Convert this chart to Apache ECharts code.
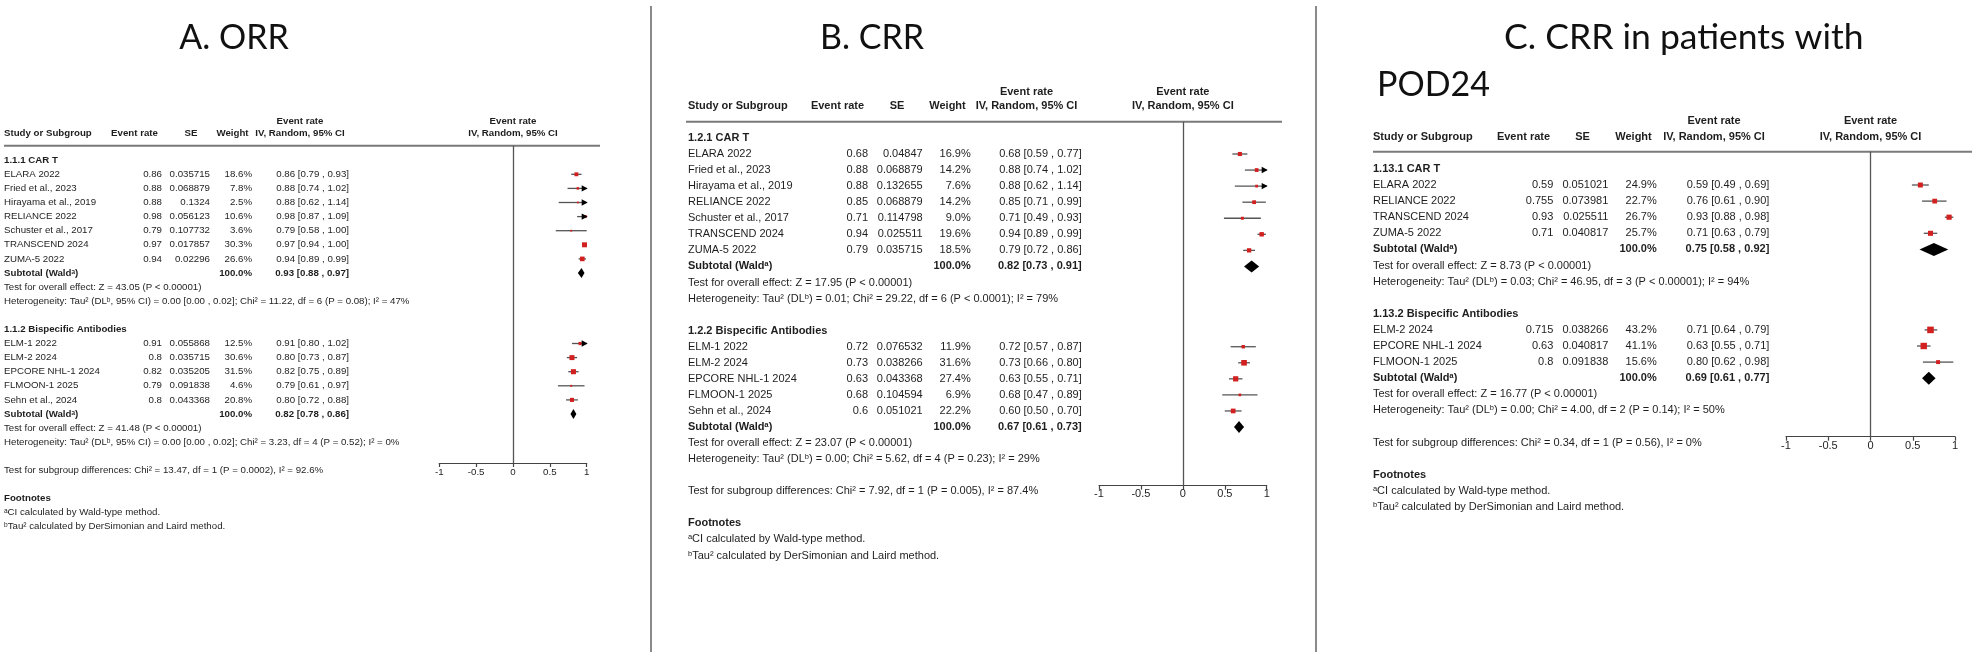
<!DOCTYPE html>
<html><head><meta charset="utf-8">
<script src="https://cdn.jsdelivr.net/npm/echarts@6/dist/echarts.min.js"></script>
<style>html,body{margin:0;padding:0;background:#fff}#c{width:1975px;height:652px}</style>
</head><body><div id="c"></div>
<script>
// ================= DATA =================
const axisTicks = [-1, -0.5, 0, 0.5, 1];
const headerCols = ['Study or Subgroup', 'Event rate', 'SE', 'Weight', 'IV, Random, 95% CI'];
const footnoteLines = ['Footnotes', '\u1d43CI calculated by Wald-type method.', '\u1d47Tau\u00b2 calculated by DerSimonian and Laird method.'];

// ---- Panel A: ORR ----
const A_title = 'A. ORR';
const A_g1_label = '1.1.1 CAR T';
const A_g1_names = ['ELARA 2022', 'Fried et al., 2023', 'Hirayama et al., 2019', 'RELIANCE 2022', 'Schuster et al., 2017', 'TRANSCEND 2024', 'ZUMA-5 2022'];
const A_g1_rate = ['0.86', '0.88', '0.88', '0.98', '0.79', '0.97', '0.94'];
const A_g1_se = ['0.035715', '0.068879', '0.1324', '0.056123', '0.107732', '0.017857', '0.02296'];
const A_g1_weight = [18.6, 7.8, 2.5, 10.6, 3.6, 30.3, 26.6];
const A_g1_est = [0.86, 0.88, 0.88, 0.98, 0.79, 0.97, 0.94];
const A_g1_lo = [0.79, 0.74, 0.62, 0.87, 0.58, 0.94, 0.89];
const A_g1_hi = [0.93, 1.02, 1.14, 1.09, 1.00, 1.00, 0.99];
const A_g1_sub = [0.93, 0.88, 0.97];
const A_g1_test = 'Test for overall effect: Z = 43.05 (P < 0.00001)';
const A_g1_het = 'Heterogeneity: Tau\u00b2 (DL\u1d47, 95% CI) = 0.00 [0.00 , 0.02]; Chi\u00b2 = 11.22, df = 6 (P = 0.08); I\u00b2 = 47%';
const A_g2_label = '1.1.2 Bispecific Antibodies';
const A_g2_names = ['ELM-1 2022', 'ELM-2 2024', 'EPCORE NHL-1 2024', 'FLMOON-1 2025', 'Sehn et al., 2024'];
const A_g2_rate = ['0.91', '0.8', '0.82', '0.79', '0.8'];
const A_g2_se = ['0.055868', '0.035715', '0.035205', '0.091838', '0.043368'];
const A_g2_weight = [12.5, 30.6, 31.5, 4.6, 20.8];
const A_g2_est = [0.91, 0.80, 0.82, 0.79, 0.80];
const A_g2_lo = [0.80, 0.73, 0.75, 0.61, 0.72];
const A_g2_hi = [1.02, 0.87, 0.89, 0.97, 0.88];
const A_g2_sub = [0.82, 0.78, 0.86];
const A_g2_test = 'Test for overall effect: Z = 41.48 (P < 0.00001)';
const A_g2_het = 'Heterogeneity: Tau\u00b2 (DL\u1d47, 95% CI) = 0.00 [0.00 , 0.02]; Chi\u00b2 = 3.23, df = 4 (P = 0.52); I\u00b2 = 0%';
const A_diff = 'Test for subgroup differences: Chi\u00b2 = 13.47, df = 1 (P = 0.0002), I\u00b2 = 92.6%';

// ---- Panel B: CRR ----
const B_title = 'B. CRR';
const B_g1_label = '1.2.1 CAR T';
const B_g1_names = ['ELARA 2022', 'Fried et al., 2023', 'Hirayama et al., 2019', 'RELIANCE 2022', 'Schuster et al., 2017', 'TRANSCEND 2024', 'ZUMA-5 2022'];
const B_g1_rate = ['0.68', '0.88', '0.88', '0.85', '0.71', '0.94', '0.79'];
const B_g1_se = ['0.04847', '0.068879', '0.132655', '0.068879', '0.114798', '0.025511', '0.035715'];
const B_g1_weight = [16.9, 14.2, 7.6, 14.2, 9.0, 19.6, 18.5];
const B_g1_est = [0.68, 0.88, 0.88, 0.85, 0.71, 0.94, 0.79];
const B_g1_lo = [0.59, 0.74, 0.62, 0.71, 0.49, 0.89, 0.72];
const B_g1_hi = [0.77, 1.02, 1.14, 0.99, 0.93, 0.99, 0.86];
const B_g1_sub = [0.82, 0.73, 0.91];
const B_g1_test = 'Test for overall effect: Z = 17.95 (P < 0.00001)';
const B_g1_het = 'Heterogeneity: Tau\u00b2 (DL\u1d47) = 0.01; Chi\u00b2 = 29.22, df = 6 (P < 0.0001); I\u00b2 = 79%';
const B_g2_label = '1.2.2 Bispecific Antibodies';
const B_g2_names = ['ELM-1 2022', 'ELM-2 2024', 'EPCORE NHL-1 2024', 'FLMOON-1 2025', 'Sehn et al., 2024'];
const B_g2_rate = ['0.72', '0.73', '0.63', '0.68', '0.6'];
const B_g2_se = ['0.076532', '0.038266', '0.043368', '0.104594', '0.051021'];
const B_g2_weight = [11.9, 31.6, 27.4, 6.9, 22.2];
const B_g2_est = [0.72, 0.73, 0.63, 0.68, 0.60];
const B_g2_lo = [0.57, 0.66, 0.55, 0.47, 0.50];
const B_g2_hi = [0.87, 0.80, 0.71, 0.89, 0.70];
const B_g2_sub = [0.67, 0.61, 0.73];
const B_g2_test = 'Test for overall effect: Z = 23.07 (P < 0.00001)';
const B_g2_het = 'Heterogeneity: Tau\u00b2 (DL\u1d47) = 0.00; Chi\u00b2 = 5.62, df = 4 (P = 0.23); I\u00b2 = 29%';
const B_diff = 'Test for subgroup differences: Chi\u00b2 = 7.92, df = 1 (P = 0.005), I\u00b2 = 87.4%';

// ---- Panel C: CRR in patients with POD24 ----
const C_title1 = 'C. CRR in patients with';
const C_title2 = 'POD24';
const C_g1_label = '1.13.1 CAR T';
const C_g1_names = ['ELARA 2022', 'RELIANCE 2022', 'TRANSCEND 2024', 'ZUMA-5 2022'];
const C_g1_rate = ['0.59', '0.755', '0.93', '0.71'];
const C_g1_se = ['0.051021', '0.073981', '0.025511', '0.040817'];
const C_g1_weight = [24.9, 22.7, 26.7, 25.7];
const C_g1_est = [0.59, 0.76, 0.93, 0.71];
const C_g1_lo = [0.49, 0.61, 0.88, 0.63];
const C_g1_hi = [0.69, 0.90, 0.98, 0.79];
const C_g1_sub = [0.75, 0.58, 0.92];
const C_g1_test = 'Test for overall effect: Z = 8.73 (P < 0.00001)';
const C_g1_het = 'Heterogeneity: Tau\u00b2 (DL\u1d47) = 0.03; Chi\u00b2 = 46.95, df = 3 (P < 0.00001); I\u00b2 = 94%';
const C_g2_label = '1.13.2 Bispecific Antibodies';
const C_g2_names = ['ELM-2 2024', 'EPCORE NHL-1 2024', 'FLMOON-1 2025'];
const C_g2_rate = ['0.715', '0.63', '0.8'];
const C_g2_se = ['0.038266', '0.040817', '0.091838'];
const C_g2_weight = [43.2, 41.1, 15.6];
const C_g2_est = [0.71, 0.63, 0.80];
const C_g2_lo = [0.64, 0.55, 0.62];
const C_g2_hi = [0.79, 0.71, 0.98];
const C_g2_sub = [0.69, 0.61, 0.77];
const C_g2_test = 'Test for overall effect: Z = 16.77 (P < 0.00001)';
const C_g2_het = 'Heterogeneity: Tau\u00b2 (DL\u1d47) = 0.00; Chi\u00b2 = 4.00, df = 2 (P = 0.14); I\u00b2 = 50%';
const C_diff = 'Test for subgroup differences: Chi\u00b2 = 0.34, df = 1 (P = 0.56), I\u00b2 = 0%';

// ================= LAYOUT =================
const FONT = "'Liberation Sans', Arial, sans-serif";
const TITLE_FONT = "Lato, 'Open Sans', sans-serif";
const TXT = '#1e1e1e';

function grp(label, names, rate, se, w, est, lo, hi, sub, test, het) {
  return {label, names, rate, se, w, est, lo, hi, sub, test, het};
}
const panels = [
  { groups: [
      grp(A_g1_label, A_g1_names, A_g1_rate, A_g1_se, A_g1_weight, A_g1_est, A_g1_lo, A_g1_hi, A_g1_sub, A_g1_test, A_g1_het),
      grp(A_g2_label, A_g2_names, A_g2_rate, A_g2_se, A_g2_weight, A_g2_est, A_g2_lo, A_g2_hi, A_g2_sub, A_g2_test, A_g2_het)],
    diff: A_diff,
    L: {fs: 9.7, rowH: 14.1, y0: 160.2, axL: 439.3, axR: 586.7, headY: 145.7, axisY: 463, lblM: 4,
        xName: 4, xRate: 162, xSE: 210, xW: 252, xCI: 349,
        hRate: 134.5, hSE: 191, hW: 232.5, hCI: 300, h1: 121.5, h2: 133.5,
        lineL: 4, lineR: 600, sq: 0.9, dh: 10} },
  { groups: [
      grp(B_g1_label, B_g1_names, B_g1_rate, B_g1_se, B_g1_weight, B_g1_est, B_g1_lo, B_g1_hi, B_g1_sub, B_g1_test, B_g1_het),
      grp(B_g2_label, B_g2_names, B_g2_rate, B_g2_se, B_g2_weight, B_g2_est, B_g2_lo, B_g2_hi, B_g2_sub, B_g2_test, B_g2_het)],
    diff: B_diff,
    L: {fs: 11, rowH: 16.06, y0: 137.94, axL: 1099, axR: 1266.7, headY: 121.7, axisY: 485.7, lblM: 3,
        xName: 688, xRate: 868, xSE: 922.7, xW: 970.7, xCI: 1081.7,
        hRate: 837.5, hSE: 897, hW: 947.5, hCI: 1026.5, h1: 92, h2: 106,
        lineL: 686, lineR: 1282, sq: 1.0, dh: 12} },
  { groups: [
      grp(C_g1_label, C_g1_names, C_g1_rate, C_g1_se, C_g1_weight, C_g1_est, C_g1_lo, C_g1_hi, C_g1_sub, C_g1_test, C_g1_het),
      grp(C_g2_label, C_g2_names, C_g2_rate, C_g2_se, C_g2_weight, C_g2_est, C_g2_lo, C_g2_hi, C_g2_sub, C_g2_test, C_g2_het)],
    diff: C_diff,
    L: {fs: 11, rowH: 16.1, y0: 168.9, axL: 1786, axR: 1955, headY: 151.7, axisY: 436.7, lblM: 4,
        xName: 1373, xRate: 1553.3, xSE: 1608.3, xW: 1656.7, xCI: 1769.3,
        hRate: 1523.5, hSE: 1582.5, hW: 1633.5, hCI: 1714, h1: 120.7, h2: 136.7,
        lineL: 1373, lineR: 1972, sq: 1.0, dh: 13} }
];

const f2 = v => v.toFixed(2);
const ciText = (e, lo, hi) => f2(e) + ' [' + f2(lo) + ' , ' + f2(hi) + ']';

const grids = [], xAxes = [], yAxes = [], series = [];
const graphics = [];

panels.forEach((P, pi) => {
  const L = P.L;
  const yMin = (L.headY - L.y0) / L.rowH, yMax = (L.axisY - L.y0) / L.rowH;
  const zeroPx = L.axL + (L.axR - L.axL) / 2;
  grids.push({left: L.axL, top: L.headY, width: L.axR - L.axL, height: L.axisY - L.headY, containLabel: false});
  xAxes.push({gridIndex: pi, type: 'value', min: axisTicks[0], max: axisTicks[axisTicks.length - 1], interval: 0.5,
    position: 'bottom',
    axisLine: {show: true, onZero: false, lineStyle: {color: '#444', width: 1.2}},
    axisTick: {show: true, length: 4, lineStyle: {color: '#444', width: 1.2}},
    axisLabel: {fontSize: L.fs, color: TXT, fontFamily: FONT, margin: L.lblM, formatter: v => String(v)},
    splitLine: {show: false}});
  yAxes.push({gridIndex: pi, type: 'value', min: yMin, max: yMax, inverse: true, show: false, splitLine: {show: false}});

  const texts = [], studies = [], diamonds = [];
  const hr = y => (y - L.y0) / L.rowH;
  const T = (row, x, text, align, bold) => texts.push({row, x, text, align, bold});
  T(hr(L.h1), L.hCI, 'Event rate', 'center', true);
  T(hr(L.h1), zeroPx, 'Event rate', 'center', true);
  T(hr(L.h2), L.xName, headerCols[0], 'left', true);
  T(hr(L.h2), L.hRate, headerCols[1], 'center', true);
  T(hr(L.h2), L.hSE, headerCols[2], 'center', true);
  T(hr(L.h2), L.hW, headerCols[3], 'center', true);
  T(hr(L.h2), L.hCI, headerCols[4], 'center', true);
  T(hr(L.h2), zeroPx, headerCols[4], 'center', true);

  let r = 0;
  P.groups.forEach(g => {
    T(r, L.xName, g.label, 'left', true); r++;
    g.names.forEach((n, i) => {
      T(r, L.xName, n, 'left', false);
      T(r, L.xRate, g.rate[i], 'right', false);
      T(r, L.xSE, g.se[i], 'right', false);
      T(r, L.xW, g.w[i].toFixed(1) + '%', 'right', false);
      T(r, L.xCI, ciText(g.est[i], g.lo[i], g.hi[i]), 'right', false);
      studies.push({row: r, est: g.est[i], lo: g.lo[i], hi: g.hi[i], w: g.w[i]});
      r++;
    });
    T(r, L.xName, 'Subtotal (Wald\u1d43)', 'left', true);
    T(r, L.xW, '100.0%', 'right', true);
    T(r, L.xCI, ciText(g.sub[0], g.sub[1], g.sub[2]), 'right', true);
    diamonds.push({row: r, est: g.sub[0], lo: g.sub[1], hi: g.sub[2]});
    r++;
    T(r, L.xName, g.test, 'left', false); r++;
    T(r, L.xName, g.het, 'left', false); r++;
    r++;
  });
  T(r, L.xName, P.diff, 'left', false); r += 2;
  T(r, L.xName, footnoteLines[0], 'left', true); r++;
  T(r, L.xName, footnoteLines[1], 'left', false); r++;
  T(r, L.xName, footnoteLines[2], 'left', false); r++;

  series.push({
    type: 'custom', xAxisIndex: pi, yAxisIndex: pi, clip: false, silent: true,
    data: studies.map(s => [s.est, s.row]),
    renderItem: (params, api) => {
      const s = studies[params.dataIndex];
      const y = api.coord([0, s.row])[1];
      const xl = api.coord([Math.max(s.lo, -1), s.row])[0];
      const xh = api.coord([Math.min(s.hi, 1), s.row])[0];
      const xe = api.coord([s.est, s.row])[0];
      const side = Math.max(2, Math.sqrt(s.w)) * L.sq;
      const ch = [
        {type: 'line', shape: {x1: xl, y1: y, x2: xh, y2: y}, style: {stroke: '#555', lineWidth: 1.3}},
        {type: 'rect', shape: {x: xe - side / 2, y: y - side / 2, width: side, height: side}, style: {fill: '#d21f1f'}}
      ];
      if (s.hi > 1) {
        ch.push({type: 'polygon', shape: {points: [[xh - 5, y - 3.2], [xh + 1, y], [xh - 5, y + 3.2]]}, style: {fill: '#000'}});
      }
      return {type: 'group', children: ch};
    },
    markLine: {silent: true, symbol: 'none', label: {show: false},
      lineStyle: {color: '#555', width: 1.3, type: 'solid'}, data: [{xAxis: 0}]}
  });
  series.push({
    type: 'custom', xAxisIndex: pi, yAxisIndex: pi, clip: false, silent: true,
    data: diamonds.map(d => [d.est, d.row]),
    renderItem: (params, api) => {
      const d = diamonds[params.dataIndex];
      const y = api.coord([0, d.row])[1];
      const xl = api.coord([d.lo, d.row])[0], xh = api.coord([d.hi, d.row])[0], xe = api.coord([d.est, d.row])[0];
      const h = L.dh / 2;
      return {type: 'polygon', shape: {points: [[xl, y], [xe, y - h], [xh, y], [xe, y + h]]}, style: {fill: '#000'}};
    }
  });
  series.push({
    type: 'custom', xAxisIndex: pi, yAxisIndex: pi, clip: false, silent: true,
    data: texts.map(t => [0, t.row]),
    renderItem: (params, api) => {
      const t = texts[params.dataIndex];
      const y = api.coord([0, t.row])[1];
      return {type: 'text', x: t.x, y: y, style: {text: t.text, fill: TXT, fontSize: L.fs, fontFamily: FONT,
        fontWeight: t.bold ? 'bold' : 'normal', align: t.align, verticalAlign: 'middle'}};
    }
  });
  graphics.push({type: 'line', shape: {x1: L.lineL, y1: L.headY, x2: L.lineR, y2: L.headY},
    style: {stroke: '#7a7a7a', lineWidth: 2}, silent: true});
});

graphics.push({type: 'line', shape: {x1: 651, y1: 6, x2: 651, y2: 652}, style: {stroke: '#8a8a8a', lineWidth: 2}, silent: true});
graphics.push({type: 'line', shape: {x1: 1316, y1: 6, x2: 1316, y2: 652}, style: {stroke: '#8a8a8a', lineWidth: 2}, silent: true});
const titleStyle = {fill: '#111', fontFamily: TITLE_FONT, fontWeight: 'normal', verticalAlign: 'middle'};
graphics.push({type: 'text', x: 234, y: 38, style: Object.assign({text: A_title, align: 'center', fontSize: 34}, titleStyle)});
graphics.push({type: 'text', x: 872, y: 38, style: Object.assign({text: B_title, align: 'center', fontSize: 34}, titleStyle)});
graphics.push({type: 'text', x: 1504, y: 38, style: Object.assign({text: C_title1, align: 'left', fontSize: 35.5}, titleStyle)});
graphics.push({type: 'text', x: 1377, y: 85, style: Object.assign({text: C_title2, align: 'left', fontSize: 34}, titleStyle)});

const chart = echarts.init(document.getElementById('c'), null, {renderer: 'canvas', width: 1975, height: 652});
chart.setOption({
  animation: false,
  backgroundColor: '#fff',
  grid: grids, xAxis: xAxes, yAxis: yAxes, series: series,
  graphic: {elements: graphics}
});
</script>
</body></html>
